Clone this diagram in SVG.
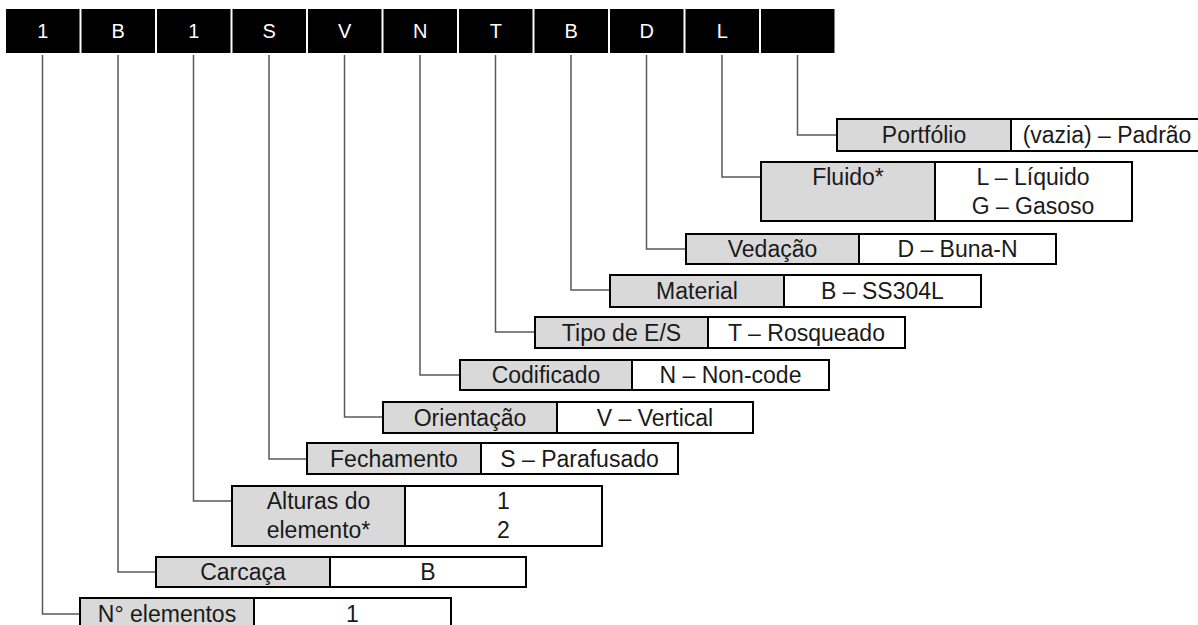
<svg xmlns="http://www.w3.org/2000/svg" width="1198" height="625" viewBox="0 0 1198 625">
<style>
.hb{fill:#000}
.ht{fill:#fff;font-family:"Liberation Sans",Arial,sans-serif;font-size:20px;text-anchor:middle}
.lab{fill:#d9d9d9;stroke:none}
.box{fill:none;stroke:#000;stroke-width:2}
.val{fill:#fff;stroke:none}
.t{fill:#1a1a1a;font-family:"Liberation Sans",Arial,sans-serif;font-size:23px;text-anchor:middle}
.c{fill:none;stroke:#595959;stroke-width:1.5}
</style>
<rect width="1198" height="625" fill="#fff"/>
<g id="header">
<rect class="hb" x="6" y="9" width="73.5" height="44"/><text class="ht" x="42.75" y="38">1</text>
<rect class="hb" x="81.5" y="9" width="73.5" height="44"/><text class="ht" x="118.25" y="38">B</text>
<rect class="hb" x="157" y="9" width="73.5" height="44"/><text class="ht" x="193.75" y="38">1</text>
<rect class="hb" x="232.5" y="9" width="73.5" height="44"/><text class="ht" x="269.25" y="38">S</text>
<rect class="hb" x="308" y="9" width="73.5" height="44"/><text class="ht" x="344.75" y="38">V</text>
<rect class="hb" x="383.5" y="9" width="73.5" height="44"/><text class="ht" x="420.25" y="38">N</text>
<rect class="hb" x="459" y="9" width="73.5" height="44"/><text class="ht" x="495.75" y="38">T</text>
<rect class="hb" x="534.5" y="9" width="73.5" height="44"/><text class="ht" x="571.25" y="38">B</text>
<rect class="hb" x="610" y="9" width="73.5" height="44"/><text class="ht" x="646.75" y="38">D</text>
<rect class="hb" x="685.5" y="9" width="73.5" height="44"/><text class="ht" x="722.25" y="38">L</text>
<rect class="hb" x="761" y="9" width="73.5" height="44"/>
</g>
<g id="connectors">
<path class="c" d="M42.5,55 V614 H80"/>
<path class="c" d="M118,55 V572 H156"/>
<path class="c" d="M193.5,55 V501 H232"/>
<path class="c" d="M269,55 V459 H307"/>
<path class="c" d="M344.5,55 V417 H383"/>
<path class="c" d="M420,55 V375 H460"/>
<path class="c" d="M495.5,55 V332 H535"/>
<path class="c" d="M571,55 V290 H610"/>
<path class="c" d="M646.5,55 V249 H686"/>
<path class="c" d="M722,55 V177 H761"/>
<path class="c" d="M797.5,55 V135 H837"/>
</g>
<g id="portfolio">
<rect class="lab" x="837" y="119" width="174" height="32"/><rect class="val" x="1011" y="119" width="197" height="32"/>
<rect class="box" x="837" y="119" width="371" height="32"/><line class="box" x1="1011" y1="119" x2="1011" y2="151"/>
<text class="t" x="924" y="143">Portfólio</text><text class="t" x="1107" y="143">(vazia) – Padrão</text>
</g>
<g id="fluido">
<rect class="lab" x="761" y="162" width="174" height="59"/><rect class="val" x="935" y="162" width="197" height="59"/>
<rect class="box" x="761" y="162" width="371" height="59"/><line class="box" x1="935" y1="162" x2="935" y2="221"/>
<text class="t" x="848" y="185">Fluido*</text><text class="t" x="1033" y="185">L – Líquido</text><text class="t" x="1033" y="214">G – Gasoso</text>
</g>
<g id="vedacao">
<rect class="lab" x="686" y="234" width="173" height="30"/><rect class="val" x="859" y="234" width="197" height="30"/>
<rect class="box" x="686" y="234" width="370" height="30"/><line class="box" x1="859" y1="234" x2="859" y2="264"/>
<text class="t" x="772.5" y="257">Vedação</text><text class="t" x="957.5" y="257">D – Buna-N</text>
</g>
<g id="material">
<rect class="lab" x="610" y="275" width="174" height="32"/><rect class="val" x="784" y="275" width="197" height="32"/>
<rect class="box" x="610" y="275" width="371" height="32"/><line class="box" x1="784" y1="275" x2="784" y2="307"/>
<text class="t" x="697" y="299">Material</text><text class="t" x="882.5" y="299">B – SS304L</text>
</g>
<g id="tipo">
<rect class="lab" x="535" y="317" width="173" height="31"/><rect class="val" x="708" y="317" width="197" height="31"/>
<rect class="box" x="535" y="317" width="370" height="31"/><line class="box" x1="708" y1="317" x2="708" y2="348"/>
<text class="t" x="621.5" y="340.5">Tipo de E/S</text><text class="t" x="806.5" y="340.5">T – Rosqueado</text>
</g>
<g id="codificado">
<rect class="lab" x="460" y="360" width="172" height="30"/><rect class="val" x="632" y="360" width="197" height="30"/>
<rect class="box" x="460" y="360" width="369" height="30"/><line class="box" x1="632" y1="360" x2="632" y2="390"/>
<text class="t" x="546" y="383">Codificado</text><text class="t" x="730.5" y="383">N – Non-code</text>
</g>
<g id="orientacao">
<rect class="lab" x="383" y="402" width="174" height="31"/><rect class="val" x="557" y="402" width="196" height="31"/>
<rect class="box" x="383" y="402" width="370" height="31"/><line class="box" x1="557" y1="402" x2="557" y2="433"/>
<text class="t" x="470" y="425.5">Orientação</text><text class="t" x="655" y="425.5">V – Vertical</text>
</g>
<g id="fechamento">
<rect class="lab" x="307" y="443" width="174" height="31"/><rect class="val" x="481" y="443" width="197" height="31"/>
<rect class="box" x="307" y="443" width="371" height="31"/><line class="box" x1="481" y1="443" x2="481" y2="474"/>
<text class="t" x="394" y="466.5">Fechamento</text><text class="t" x="579.5" y="466.5">S – Parafusado</text>
</g>
<g id="alturas">
<rect class="lab" x="232" y="486" width="173" height="60"/><rect class="val" x="405" y="486" width="197" height="60"/>
<rect class="box" x="232" y="486" width="370" height="60"/><line class="box" x1="405" y1="486" x2="405" y2="546"/>
<text class="t" x="318.5" y="509">Alturas do</text><text class="t" x="318.5" y="538">elemento*</text>
<text class="t" x="503.5" y="509">1</text><text class="t" x="503.5" y="538">2</text>
</g>
<g id="carcaca">
<rect class="lab" x="156" y="557" width="174" height="30"/><rect class="val" x="330" y="557" width="196" height="30"/>
<rect class="box" x="156" y="557" width="370" height="30"/><line class="box" x1="330" y1="557" x2="330" y2="587"/>
<text class="t" x="243" y="580">Carcaça</text><text class="t" x="428" y="580">B</text>
</g>
<g id="elementos">
<rect class="lab" x="80" y="598" width="174" height="32"/><rect class="val" x="254" y="598" width="197" height="32"/>
<rect class="box" x="80" y="598" width="371" height="32"/><line class="box" x1="254" y1="598" x2="254" y2="630"/>
<text class="t" x="167" y="621.5">N° elementos</text><text class="t" x="352.5" y="621.5">1</text>
</g>
</svg>
